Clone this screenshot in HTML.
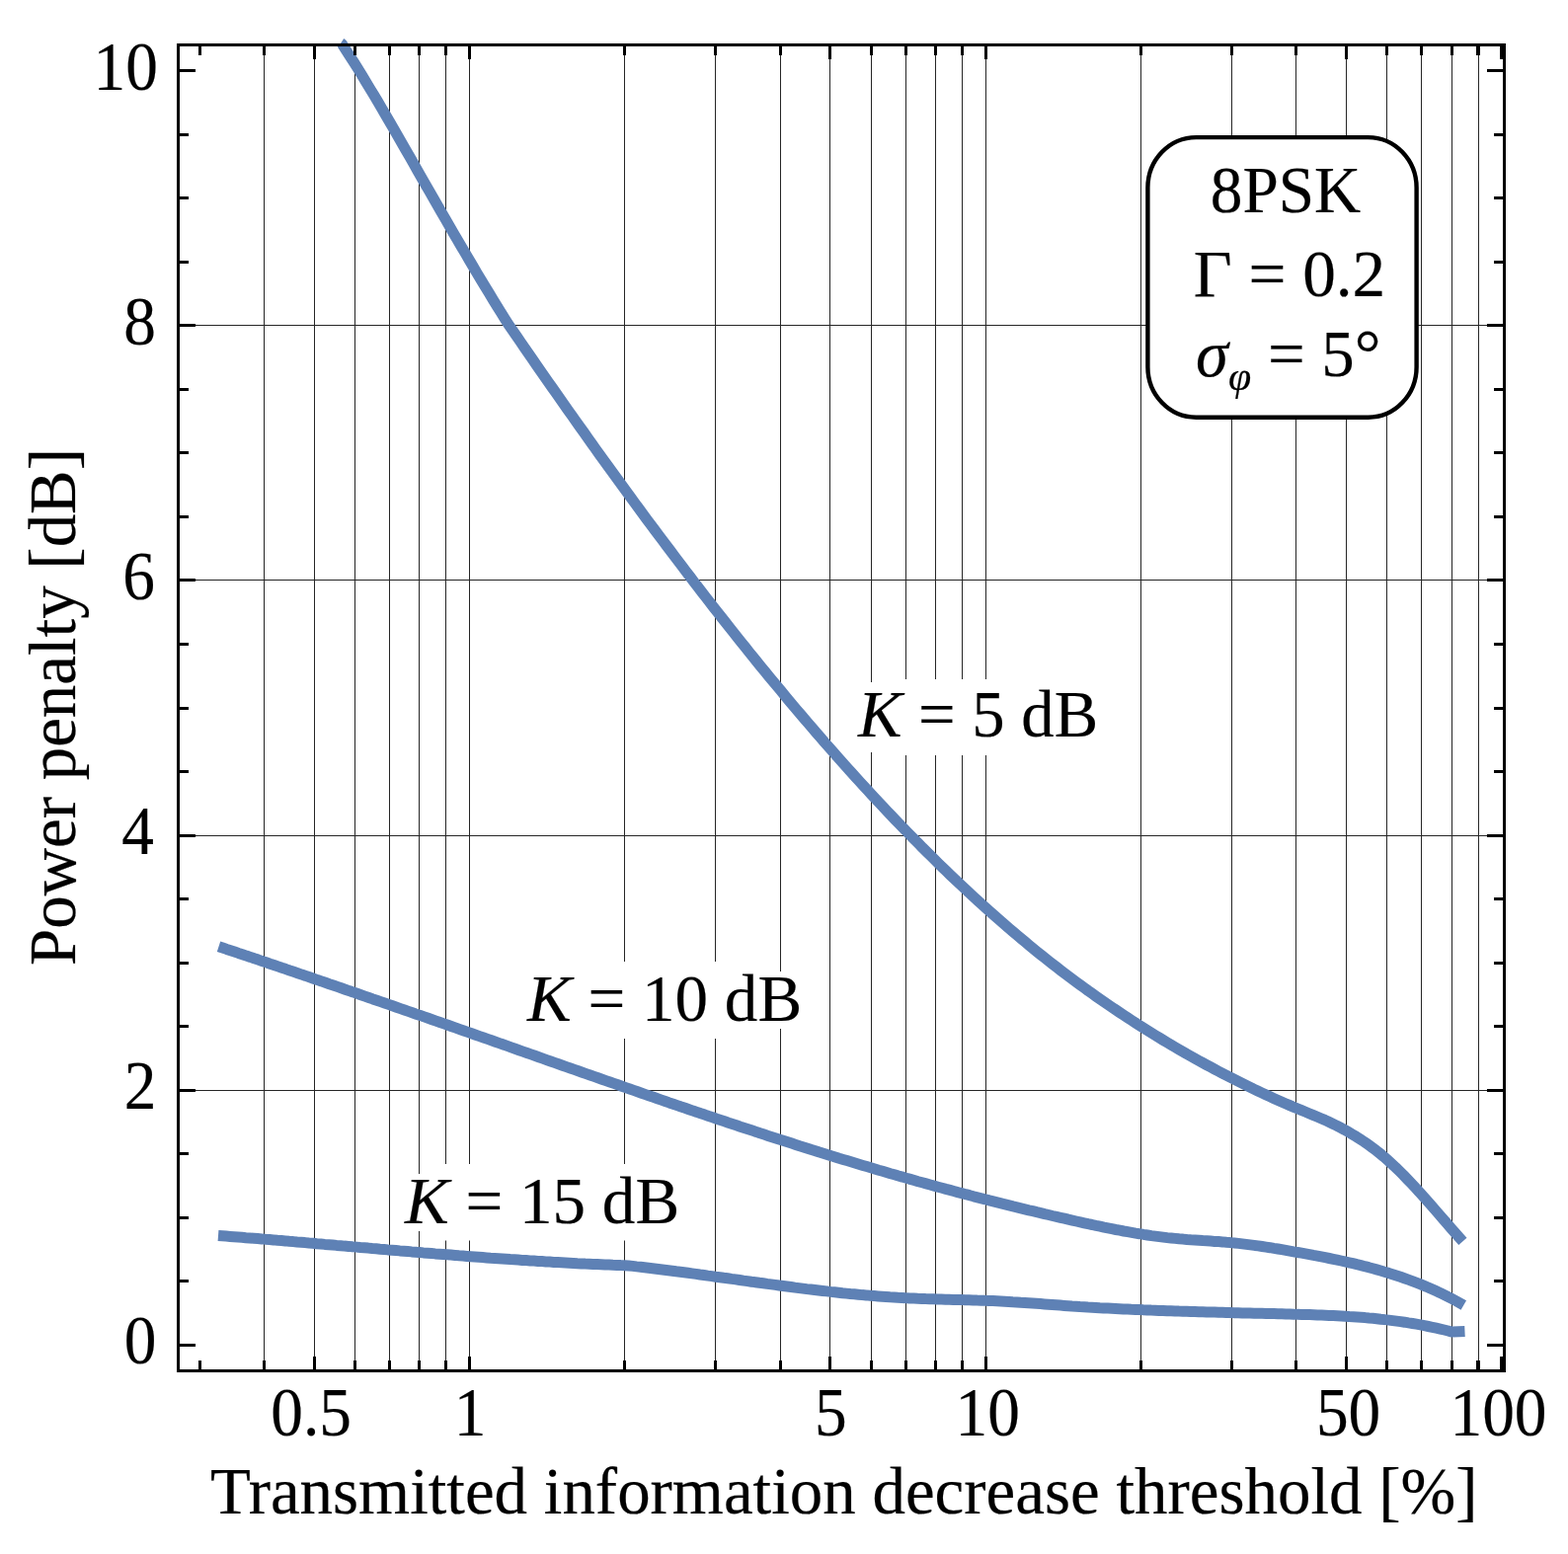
<!DOCTYPE html>
<html><head><meta charset="utf-8"><title>Power penalty</title>
<style>html,body{margin:0;padding:0;background:#fff;overflow:hidden}body{width:1588px;height:1574px;overflow:hidden}svg{display:block}text{font-family:"Liberation Serif","DejaVu Serif",serif;fill:#000}.i{font-style:italic}</style></head><body>
<svg width="1588" height="1574" viewBox="0 0 1588 1574">
<rect width="1588" height="1574" fill="#fff"/>
<path d="M267.50 45.5V1388.5M318.50 45.5V1388.5M359.50 45.5V1388.5M394.50 45.5V1388.5M424.50 45.5V1388.5M451.50 45.5V1388.5M475.50 45.5V1388.5M632.50 45.5V1388.5M724.50 45.5V1388.5M790.50 45.5V1388.5M840.50 45.5V1388.5M882.50 45.5V1388.5M917.50 45.5V1388.5M947.50 45.5V1388.5M974.50 45.5V1388.5M998.50 45.5V1388.5M1155.50 45.5V1388.5M1247.50 45.5V1388.5M1312.50 45.5V1388.5M1363.50 45.5V1388.5M1404.50 45.5V1388.5M1439.50 45.5V1388.5M1470.50 45.5V1388.5M1497.50 45.5V1388.5M180.5 1104.50H1523.5M180.5 846.50H1523.5M180.5 587.50H1523.5M180.5 329.50H1523.5" stroke="#262626" stroke-width="1.00" fill="none"/>
<g fill="none" stroke="#5e81b5" stroke-width="11.0" stroke-linejoin="round">
<path d="M345.2 43.7L346.4 44.5L350.4 50.7L354.4 56.9L358.5 63.3L362.5 69.7L366.5 76.2L370.5 82.8L374.5 89.5L378.6 96.2L382.6 102.9L386.6 109.8L390.6 116.6L394.7 123.6L398.7 130.5L402.7 137.5L406.7 144.5L410.7 151.5L414.8 158.6L418.8 165.6L422.8 172.7L426.8 179.7L430.8 186.8L434.9 193.8L438.9 200.8L442.9 207.8L446.9 214.8L451.0 221.8L455.0 228.7L459.0 235.7L463.0 242.6L467.0 249.4L471.1 256.3L475.1 263.1L479.1 269.9L483.1 276.7L487.1 283.4L491.2 290.1L495.2 296.7L499.2 303.3L503.2 309.9L507.3 316.4L511.3 322.8L515.3 329.2L519.3 334.9L523.3 340.7L527.3 346.5L531.3 352.3L535.3 358.1L539.3 363.9L543.2 369.6L547.2 375.4L551.2 381.1L555.2 386.8L559.2 392.5L563.2 398.2L567.2 403.9L571.2 409.6L575.2 415.3L579.2 420.9L583.2 426.6L587.2 432.2L591.2 437.8L595.1 443.4L599.1 449.0L603.1 454.6L607.1 460.2L611.1 465.7L615.1 471.3L619.1 476.8L623.1 482.3L627.1 487.8L631.1 493.3L635.1 498.7L639.1 504.2L643.0 509.6L647.0 515.1L651.0 520.5L655.0 525.9L659.0 531.3L663.0 536.6L667.0 542.0L671.0 547.3L675.0 552.6L679.0 557.9L683.0 563.2L687.0 568.5L691.0 573.8L694.9 579.0L698.9 584.2L702.9 589.5L706.9 594.6L710.9 599.8L714.9 605.0L718.9 610.1L722.9 615.3L726.9 620.4L730.9 625.5L734.9 630.5L738.9 635.6L742.9 640.6L746.8 645.6L750.8 650.7L754.8 655.6L758.8 660.6L762.8 665.5L766.8 670.5L770.8 675.4L774.8 680.3L778.8 685.2L782.8 690.0L786.8 694.8L790.8 699.6L794.8 704.4L798.7 709.2L802.7 714.0L806.7 718.7L810.7 723.4L814.7 728.1L818.7 732.8L822.7 737.4L826.7 742.1L830.7 746.7L834.7 751.3L838.7 755.8L842.7 760.4L846.6 764.9L850.6 769.4L854.6 773.9L858.6 778.4L862.6 782.8L866.6 787.2L870.6 791.6L874.6 796.0L878.6 800.3L882.6 804.7L886.6 809.0L890.6 813.2L894.6 817.5L898.5 821.7L902.5 825.9L906.5 830.1L910.5 834.3L914.5 838.4L918.5 842.5L922.5 846.6L926.5 850.7L930.5 854.7L934.5 858.8L938.5 862.7L942.5 866.7L946.5 870.7L950.4 874.6L954.4 878.5L958.4 882.3L962.4 886.2L966.4 890.0L970.4 893.8L974.4 897.5L978.4 901.3L982.4 905.0L986.4 908.7L990.4 912.3L994.4 916.0L998.4 919.6L1002.3 923.1L1006.3 926.7L1010.3 930.2L1014.3 933.7L1018.3 937.2L1022.3 940.6L1026.3 944.0L1030.3 947.4L1034.3 950.8L1038.3 954.1L1042.3 957.4L1046.3 960.7L1050.2 963.9L1054.2 967.1L1058.2 970.3L1062.2 973.5L1066.2 976.6L1070.2 979.7L1074.2 982.8L1078.2 985.8L1082.2 988.8L1086.2 991.8L1090.2 994.8L1094.2 997.7L1098.2 1000.6L1102.1 1003.5L1106.1 1006.3L1110.1 1009.2L1114.1 1012.0L1118.1 1014.8L1122.1 1017.5L1126.1 1020.2L1130.1 1022.9L1134.1 1025.6L1138.1 1028.3L1142.1 1030.9L1146.1 1033.5L1150.1 1036.1L1154.0 1038.6L1158.0 1041.2L1162.0 1043.7L1166.0 1046.2L1170.0 1048.6L1174.0 1051.0L1178.0 1053.5L1182.0 1055.9L1186.0 1058.2L1190.0 1060.6L1194.0 1062.9L1198.0 1065.2L1201.9 1067.5L1205.9 1069.7L1209.9 1072.0L1213.9 1074.2L1217.9 1076.4L1221.9 1078.6L1225.9 1080.7L1229.9 1082.9L1233.9 1085.0L1237.9 1087.1L1241.9 1089.1L1245.9 1091.2L1249.9 1093.2L1253.8 1095.2L1257.8 1097.2L1261.8 1099.2L1265.8 1101.2L1269.8 1103.1L1273.8 1105.0L1277.8 1106.9L1281.8 1108.8L1285.8 1110.6L1289.8 1112.4L1293.8 1114.2L1297.8 1116.0L1301.8 1117.7L1305.7 1119.4L1309.7 1121.1L1313.7 1122.8L1317.7 1124.4L1321.7 1126.0L1325.7 1127.7L1329.7 1129.3L1333.7 1131.0L1337.7 1132.7L1341.7 1134.4L1345.7 1136.3L1349.7 1138.2L1353.7 1140.1L1357.6 1142.2L1361.6 1144.3L1365.6 1146.6L1369.6 1148.9L1373.6 1151.3L1377.6 1153.9L1381.6 1156.5L1385.6 1159.3L1389.6 1162.2L1393.6 1165.2L1397.6 1168.4L1401.6 1171.7L1405.5 1175.2L1409.5 1178.8L1413.5 1182.5L1417.5 1186.4L1421.5 1190.4L1425.5 1194.6L1429.5 1198.8L1433.5 1203.1L1437.5 1207.4L1441.5 1211.9L1445.5 1216.4L1449.5 1220.9L1453.5 1225.5L1457.4 1230.0L1461.4 1234.6L1465.4 1239.2L1469.4 1243.8L1473.4 1248.4L1477.4 1252.9L1481.4 1257.4"/>
<path d="M221.5 958.7L225.5 960.0L229.5 961.4L233.5 962.7L237.5 964.0L241.5 965.4L245.5 966.7L249.5 968.1L253.5 969.4L257.5 970.8L261.5 972.1L265.5 973.5L269.5 974.8L273.5 976.2L277.5 977.5L281.5 978.9L285.5 980.3L289.5 981.6L293.5 983.0L297.5 984.3L301.6 985.7L305.6 987.1L309.6 988.4L313.6 989.8L317.6 991.2L321.6 992.6L325.6 993.9L329.6 995.3L333.6 996.7L337.6 998.0L341.6 999.4L345.6 1000.8L349.6 1002.2L353.6 1003.6L357.6 1004.9L361.6 1006.3L365.6 1007.7L369.6 1009.1L373.6 1010.5L377.6 1011.9L381.6 1013.2L385.6 1014.6L389.6 1016.0L393.6 1017.4L397.6 1018.8L401.6 1020.2L405.6 1021.6L409.6 1023.0L413.6 1024.4L417.6 1025.8L421.6 1027.2L425.6 1028.5L429.6 1029.9L433.6 1031.3L437.6 1032.7L441.6 1034.1L445.6 1035.5L449.6 1036.9L453.6 1038.3L457.6 1039.7L461.7 1041.1L465.7 1042.6L469.7 1044.0L473.7 1045.4L477.7 1046.8L481.7 1048.2L485.7 1049.6L489.7 1051.0L493.7 1052.4L497.7 1053.8L501.7 1055.2L505.7 1056.6L509.7 1058.0L513.7 1059.4L517.7 1060.9L521.7 1062.3L525.7 1063.7L529.7 1065.1L533.7 1066.5L537.7 1067.9L541.7 1069.3L545.7 1070.7L549.7 1072.1L553.7 1073.6L557.7 1075.0L561.7 1076.4L565.7 1077.8L569.7 1079.2L573.7 1080.6L577.7 1082.0L581.7 1083.4L585.7 1084.8L589.7 1086.2L593.7 1087.6L597.7 1089.0L601.7 1090.4L605.7 1091.8L609.7 1093.2L613.7 1094.6L617.8 1096.0L621.8 1097.4L625.8 1098.8L629.8 1100.2L633.8 1101.6L637.8 1103.0L641.8 1104.4L645.8 1105.8L649.8 1107.2L653.8 1108.6L657.8 1110.0L661.8 1111.3L665.8 1112.7L669.8 1114.1L673.8 1115.5L677.8 1116.9L681.8 1118.2L685.8 1119.6L689.8 1121.0L693.8 1122.3L697.8 1123.7L701.8 1125.1L705.8 1126.4L709.8 1127.8L713.8 1129.1L717.8 1130.5L721.8 1131.8L725.8 1133.2L729.8 1134.5L733.8 1135.8L737.8 1137.2L741.8 1138.5L745.8 1139.8L749.8 1141.2L753.8 1142.5L757.8 1143.8L761.8 1145.1L765.8 1146.4L769.8 1147.8L773.9 1149.1L777.9 1150.4L781.9 1151.7L785.9 1153.0L789.9 1154.3L793.9 1155.5L797.9 1156.8L801.9 1158.1L805.9 1159.4L809.9 1160.7L813.9 1161.9L817.9 1163.2L821.9 1164.5L825.9 1165.7L829.9 1167.0L833.9 1168.2L837.9 1169.4L841.9 1170.7L845.9 1171.9L849.9 1173.2L853.9 1174.4L857.9 1175.6L861.9 1176.8L865.9 1178.0L869.9 1179.2L873.9 1180.4L877.9 1181.6L881.9 1182.8L885.9 1184.0L889.9 1185.2L893.9 1186.3L897.9 1187.5L901.9 1188.7L905.9 1189.8L909.9 1191.0L913.9 1192.1L917.9 1193.3L921.9 1194.4L925.9 1195.5L929.9 1196.7L934.0 1197.8L938.0 1198.9L942.0 1200.0L946.0 1201.1L950.0 1202.2L954.0 1203.3L958.0 1204.4L962.0 1205.4L966.0 1206.5L970.0 1207.6L974.0 1208.6L978.0 1209.7L982.0 1210.7L986.0 1211.8L990.0 1212.8L994.0 1213.8L998.0 1214.8L1002.0 1215.9L1006.0 1216.9L1010.0 1217.9L1014.0 1218.9L1018.0 1219.9L1022.0 1220.9L1026.0 1221.9L1030.0 1222.8L1034.0 1223.8L1038.0 1224.8L1042.0 1225.8L1046.0 1226.7L1050.0 1227.7L1054.0 1228.6L1058.0 1229.6L1062.0 1230.5L1066.0 1231.5L1070.0 1232.4L1074.0 1233.3L1078.0 1234.2L1082.0 1235.2L1086.0 1236.1L1090.1 1237.0L1094.1 1237.9L1098.1 1238.8L1102.1 1239.7L1106.1 1240.5L1110.1 1241.4L1114.1 1242.2L1118.1 1243.1L1122.1 1243.9L1126.1 1244.7L1130.1 1245.5L1134.1 1246.2L1138.1 1247.0L1142.1 1247.7L1146.1 1248.4L1150.1 1249.1L1154.1 1249.7L1158.1 1250.4L1162.1 1251.0L1166.1 1251.6L1170.1 1252.1L1174.1 1252.6L1178.1 1253.1L1182.1 1253.6L1186.1 1254.0L1190.1 1254.4L1194.1 1254.8L1198.1 1255.1L1202.1 1255.5L1206.1 1255.8L1210.1 1256.0L1214.1 1256.3L1218.1 1256.6L1222.1 1256.8L1226.1 1257.1L1230.1 1257.4L1234.1 1257.6L1238.1 1257.9L1242.1 1258.3L1246.2 1258.6L1250.2 1259.0L1254.2 1259.4L1258.2 1259.9L1262.2 1260.4L1266.2 1260.9L1270.2 1261.4L1274.2 1261.9L1278.2 1262.5L1282.2 1263.1L1286.2 1263.7L1290.2 1264.4L1294.2 1265.0L1298.2 1265.7L1302.2 1266.4L1306.2 1267.1L1310.2 1267.8L1314.2 1268.5L1318.2 1269.2L1322.2 1269.9L1326.2 1270.6L1330.2 1271.4L1334.2 1272.1L1338.2 1272.9L1342.2 1273.7L1346.2 1274.5L1350.2 1275.3L1354.2 1276.1L1358.2 1277.0L1362.2 1277.9L1366.2 1278.8L1370.2 1279.7L1374.2 1280.7L1378.2 1281.6L1382.2 1282.7L1386.2 1283.7L1390.2 1284.8L1394.2 1285.9L1398.2 1287.0L1402.2 1288.2L1406.3 1289.4L1410.3 1290.7L1414.3 1292.0L1418.3 1293.3L1422.3 1294.7L1426.3 1296.1L1430.3 1297.6L1434.3 1299.1L1438.3 1300.7L1442.3 1302.4L1446.3 1304.0L1450.3 1305.8L1454.3 1307.6L1458.3 1309.4L1462.3 1311.4L1466.3 1313.4L1470.3 1315.4L1474.3 1317.5L1478.3 1319.7L1482.3 1322.0"/>
<path d="M221.0 1251.5L225.0 1251.8L229.0 1252.1L233.0 1252.4L237.0 1252.7L241.0 1253.0L245.0 1253.3L249.0 1253.7L253.0 1254.0L257.0 1254.3L261.0 1254.6L265.0 1254.9L269.0 1255.3L273.0 1255.6L277.0 1255.9L281.0 1256.3L285.0 1256.6L289.0 1256.9L292.9 1257.3L296.9 1257.6L300.9 1258.0L304.9 1258.3L308.9 1258.6L312.9 1259.0L316.9 1259.3L320.9 1259.7L324.9 1260.0L328.9 1260.4L332.9 1260.7L336.9 1261.0L340.9 1261.4L344.9 1261.7L348.9 1262.1L352.9 1262.4L356.9 1262.8L360.9 1263.1L364.9 1263.5L368.9 1263.8L372.9 1264.1L376.9 1264.5L380.9 1264.8L384.9 1265.2L388.9 1265.5L392.9 1265.9L396.9 1266.2L400.9 1266.5L404.9 1266.9L408.9 1267.2L412.9 1267.5L416.9 1267.9L420.9 1268.2L424.9 1268.5L428.8 1268.9L432.8 1269.2L436.8 1269.5L440.8 1269.9L444.8 1270.2L448.8 1270.5L452.8 1270.8L456.8 1271.1L460.8 1271.4L464.8 1271.8L468.8 1272.1L472.8 1272.4L476.8 1272.7L480.8 1273.0L484.8 1273.3L488.8 1273.6L492.8 1273.9L496.8 1274.2L500.8 1274.4L504.8 1274.7L508.8 1275.0L512.8 1275.3L516.8 1275.6L520.8 1275.8L524.8 1276.1L528.8 1276.4L532.8 1276.6L536.8 1276.9L540.8 1277.1L544.8 1277.4L548.8 1277.6L552.8 1277.9L556.8 1278.1L560.8 1278.4L564.7 1278.6L568.7 1278.8L572.7 1279.0L576.7 1279.2L580.7 1279.4L584.7 1279.7L588.7 1279.9L592.7 1280.1L596.7 1280.2L600.7 1280.4L604.7 1280.6L608.7 1280.8L612.7 1281.0L616.7 1281.1L620.7 1281.3L624.7 1281.4L628.7 1281.6L632.7 1281.7L636.7 1282.0L640.7 1282.4L644.7 1282.9L648.7 1283.3L652.7 1283.8L656.8 1284.3L660.8 1284.7L664.8 1285.2L668.8 1285.7L672.8 1286.2L676.8 1286.7L680.8 1287.2L684.8 1287.8L688.8 1288.3L692.8 1288.8L696.8 1289.3L700.9 1289.9L704.9 1290.4L708.9 1291.0L712.9 1291.5L716.9 1292.1L720.9 1292.6L724.9 1293.2L728.9 1293.7L732.9 1294.3L736.9 1294.8L740.9 1295.4L745.0 1295.9L749.0 1296.5L753.0 1297.1L757.0 1297.6L761.0 1298.2L765.0 1298.7L769.0 1299.3L773.0 1299.8L777.0 1300.4L781.0 1300.9L785.0 1301.4L789.1 1302.0L793.1 1302.5L797.1 1303.0L801.1 1303.5L805.1 1304.1L809.1 1304.6L813.1 1305.1L817.1 1305.6L821.1 1306.0L825.1 1306.5L829.1 1307.0L833.2 1307.5L837.2 1307.9L841.2 1308.4L845.2 1308.8L849.2 1309.2L853.2 1309.7L857.2 1310.1L861.2 1310.5L865.2 1310.8L869.2 1311.2L873.2 1311.6L877.3 1311.9L881.3 1312.3L885.3 1312.6L889.3 1312.9L893.3 1313.2L897.3 1313.5L901.3 1313.8L905.3 1314.0L909.3 1314.3L913.3 1314.5L917.3 1314.7L921.4 1314.9L925.4 1315.1L929.4 1315.3L933.4 1315.4L937.4 1315.6L941.4 1315.7L945.4 1315.8L949.4 1316.0L953.4 1316.1L957.4 1316.2L961.4 1316.3L965.5 1316.4L969.5 1316.5L973.5 1316.6L977.5 1316.7L981.5 1316.8L985.5 1316.9L989.5 1317.1L993.5 1317.2L997.5 1317.3L1001.5 1317.5L1005.5 1317.6L1009.6 1317.8L1013.6 1318.0L1017.6 1318.2L1021.6 1318.4L1025.6 1318.7L1029.6 1318.9L1033.6 1319.2L1037.6 1319.4L1041.6 1319.7L1045.6 1320.0L1049.6 1320.3L1053.7 1320.6L1057.7 1320.9L1061.7 1321.2L1065.7 1321.5L1069.7 1321.8L1073.7 1322.1L1077.7 1322.4L1081.7 1322.7L1085.7 1323.0L1089.7 1323.2L1093.7 1323.5L1097.8 1323.7L1101.8 1324.0L1105.8 1324.2L1109.8 1324.4L1113.8 1324.7L1117.8 1324.9L1121.8 1325.1L1125.8 1325.3L1129.8 1325.5L1133.8 1325.7L1137.8 1325.9L1141.9 1326.1L1145.9 1326.3L1149.9 1326.4L1153.9 1326.6L1157.9 1326.8L1161.9 1326.9L1165.9 1327.1L1169.9 1327.2L1173.9 1327.4L1177.9 1327.5L1181.9 1327.7L1186.0 1327.8L1190.0 1327.9L1194.0 1328.1L1198.0 1328.2L1202.0 1328.3L1206.0 1328.5L1210.0 1328.6L1214.0 1328.7L1218.0 1328.8L1222.0 1328.9L1226.0 1329.0L1230.1 1329.1L1234.1 1329.2L1238.1 1329.3L1242.1 1329.5L1246.1 1329.6L1250.1 1329.7L1254.1 1329.8L1258.1 1329.9L1262.1 1330.0L1266.1 1330.1L1270.1 1330.2L1274.2 1330.3L1278.2 1330.3L1282.2 1330.4L1286.2 1330.5L1290.2 1330.6L1294.2 1330.7L1298.2 1330.8L1302.2 1330.9L1306.2 1331.0L1310.2 1331.2L1314.2 1331.3L1318.3 1331.4L1322.3 1331.5L1326.3 1331.6L1330.3 1331.7L1334.3 1331.9L1338.3 1332.0L1342.3 1332.2L1346.3 1332.4L1350.3 1332.6L1354.3 1332.8L1358.3 1333.0L1362.4 1333.2L1366.4 1333.5L1370.4 1333.7L1374.4 1334.0L1378.4 1334.3L1382.4 1334.6L1386.4 1335.0L1390.4 1335.3L1394.4 1335.7L1398.4 1336.2L1402.4 1336.6L1406.5 1337.1L1410.5 1337.6L1414.5 1338.1L1418.5 1338.6L1422.5 1339.2L1426.5 1339.9L1430.5 1340.5L1434.5 1341.2L1438.5 1341.9L1442.5 1342.7L1446.5 1343.5L1450.6 1344.3L1454.6 1345.2L1458.6 1346.1L1462.6 1347.0L1466.6 1348.0L1470.6 1349.1L1477.0 1348.7L1483.5 1348.4"/>
</g>
<rect x="866.0" y="691.0" width="34.0" height="71.0" fill="#fff"/>
<rect x="900.0" y="688.0" width="216.0" height="77.0" fill="#fff"/>
<rect x="532.0" y="984.0" width="43.0" height="58.0" fill="#fff"/>
<rect x="575.0" y="974.0" width="195.0" height="78.0" fill="#fff"/>
<rect x="770.0" y="984.0" width="42.0" height="58.0" fill="#fff"/>
<rect x="408.0" y="1189.0" width="32.0" height="58.0" fill="#fff"/>
<rect x="440.0" y="1179.0" width="250.0" height="77.5" fill="#fff"/>
<rect x="1162.4" y="139.1" width="272.2" height="283.6" rx="49" ry="51" fill="#fff" stroke="#000" stroke-width="4.4"/>
<path d="M202.50 1388.5v-10.5M202.50 45.5v10.5M267.50 1388.5v-10.5M267.50 45.5v10.5M359.50 1388.5v-10.5M359.50 45.5v10.5M394.50 1388.5v-10.5M394.50 45.5v10.5M424.50 1388.5v-10.5M424.50 45.5v10.5M451.50 1388.5v-10.5M451.50 45.5v10.5M632.50 1388.5v-10.5M632.50 45.5v10.5M724.50 1388.5v-10.5M724.50 45.5v10.5M790.50 1388.5v-10.5M790.50 45.5v10.5M882.50 1388.5v-10.5M882.50 45.5v10.5M917.50 1388.5v-10.5M917.50 45.5v10.5M947.50 1388.5v-10.5M947.50 45.5v10.5M974.50 1388.5v-10.5M974.50 45.5v10.5M1155.50 1388.5v-10.5M1155.50 45.5v10.5M1247.50 1388.5v-10.5M1247.50 45.5v10.5M1312.50 1388.5v-10.5M1312.50 45.5v10.5M1404.50 1388.5v-10.5M1404.50 45.5v10.5M1439.50 1388.5v-10.5M1439.50 45.5v10.5M1470.50 1388.5v-10.5M1470.50 45.5v10.5M1497.50 1388.5v-10.5M1497.50 45.5v10.5M318.50 1388.5v-14.5M318.50 45.5v14.5M475.50 1388.5v-14.5M475.50 45.5v14.5M840.50 1388.5v-14.5M840.50 45.5v14.5M998.50 1388.5v-14.5M998.50 45.5v14.5M1363.50 1388.5v-14.5M1363.50 45.5v14.5M1520.50 1388.5v-14.5M1520.50 45.5v14.5M180.5 1362.50h17.5M1523.5 1362.50h-17.5M180.5 1297.50h10.5M1523.5 1297.50h-10.5M180.5 1233.50h10.5M1523.5 1233.50h-10.5M180.5 1168.50h10.5M1523.5 1168.50h-10.5M180.5 1104.50h17.5M1523.5 1104.50h-17.5M180.5 1039.50h10.5M1523.5 1039.50h-10.5M180.5 975.50h10.5M1523.5 975.50h-10.5M180.5 910.50h10.5M1523.5 910.50h-10.5M180.5 846.50h17.5M1523.5 846.50h-17.5M180.5 781.50h10.5M1523.5 781.50h-10.5M180.5 717.50h10.5M1523.5 717.50h-10.5M180.5 652.50h10.5M1523.5 652.50h-10.5M180.5 587.50h17.5M1523.5 587.50h-17.5M180.5 523.50h10.5M1523.5 523.50h-10.5M180.5 458.50h10.5M1523.5 458.50h-10.5M180.5 394.50h10.5M1523.5 394.50h-10.5M180.5 329.50h17.5M1523.5 329.50h-17.5M180.5 265.50h10.5M1523.5 265.50h-10.5M180.5 200.50h10.5M1523.5 200.50h-10.5M180.5 136.50h10.5M1523.5 136.50h-10.5M180.5 71.50h17.5M1523.5 71.50h-17.5" stroke="#000" stroke-width="3" fill="none"/>
<path d="M1497 1388.5v-10.5M1497 45.5v10.5" stroke="#000" stroke-width="4" fill="none"/>
<rect x="180.5" y="45.5" width="1343.0" height="1343.0" fill="none" stroke="#000" stroke-width="3"/>
<text transform="translate(159.80 91.00) scale(0.9330 1)" font-size="70.00" text-anchor="end" stroke="#000" stroke-width="0.20">10</text>
<text transform="translate(158.00 349.00) scale(0.9330 1)" font-size="70.00" text-anchor="end" stroke="#000" stroke-width="0.20">8</text>
<text transform="translate(156.80 607.00) scale(0.9330 1)" font-size="70.00" text-anchor="end" stroke="#000" stroke-width="0.20">6</text>
<text transform="translate(155.80 865.00) scale(0.9330 1)" font-size="70.00" text-anchor="end" stroke="#000" stroke-width="0.20">4</text>
<text transform="translate(158.50 1123.00) scale(0.9330 1)" font-size="70.00" text-anchor="end" stroke="#000" stroke-width="0.20">2</text>
<text transform="translate(158.50 1381.00) scale(0.9330 1)" font-size="70.00" text-anchor="end" stroke="#000" stroke-width="0.20">0</text>
<text transform="translate(315.14 1454.00) scale(0.9330 1)" font-size="70.00" text-anchor="middle" stroke="#000" stroke-width="0.20">0.5</text>
<text transform="translate(476.00 1454.00) scale(0.9330 1)" font-size="70.00" text-anchor="middle" stroke="#000" stroke-width="0.20">1</text>
<text transform="translate(841.37 1454.00) scale(0.9330 1)" font-size="70.00" text-anchor="middle" stroke="#000" stroke-width="0.20">5</text>
<text transform="translate(1000.23 1454.00) scale(0.9330 1)" font-size="70.00" text-anchor="middle" stroke="#000" stroke-width="0.20">10</text>
<text transform="translate(1365.60 1454.00) scale(0.9330 1)" font-size="70.00" text-anchor="middle" stroke="#000" stroke-width="0.20">50</text>
<text transform="translate(1517.46 1454.00) scale(0.9330 1)" font-size="70.00" text-anchor="middle" stroke="#000" stroke-width="0.20">100</text>
<text transform="translate(854.80 1533.00) scale(0.9770 1)" font-size="68.50" text-anchor="middle" stroke="#000" stroke-width="0.20">Transmitted information decrease threshold [%]</text>
<text transform="translate(76 716) rotate(-90) scale(0.977 1)" font-size="68.50" text-anchor="middle" stroke="#000" stroke-width="0.20">Power penalty [dB]</text>
<text transform="translate(1302.00 215.00) scale(0.9530 1)" font-size="68.50" text-anchor="middle" stroke="#000" stroke-width="0.20">8PSK</text>
<text transform="translate(1306.00 300.20) scale(0.9820 1)" font-size="68.50" text-anchor="middle" stroke="#000" stroke-width="0.20">Γ = 0.2</text>
<text transform="translate(1211.00 381.20) scale(0.9760 1)" font-size="68.50" text-anchor="start" stroke="#000" stroke-width="0.20"><tspan class="i">σ</tspan><tspan class="i" font-size="43" dy="14">φ</tspan><tspan dy="-14"> = 5°</tspan></text>
<text transform="translate(869.00 745.80) scale(0.9730 1)" font-size="68.50" text-anchor="start" stroke="#000" stroke-width="0.20"><tspan class="i">K</tspan> = 5 dB</text>
<text transform="translate(534.00 1033.60) scale(0.9790 1)" font-size="68.50" text-anchor="start" stroke="#000" stroke-width="0.20"><tspan class="i">K</tspan> = 10 dB</text>
<text transform="translate(410.00 1238.60) scale(0.9790 1)" font-size="68.50" text-anchor="start" stroke="#000" stroke-width="0.20"><tspan class="i">K</tspan> = 15 dB</text>
</svg></body></html>
